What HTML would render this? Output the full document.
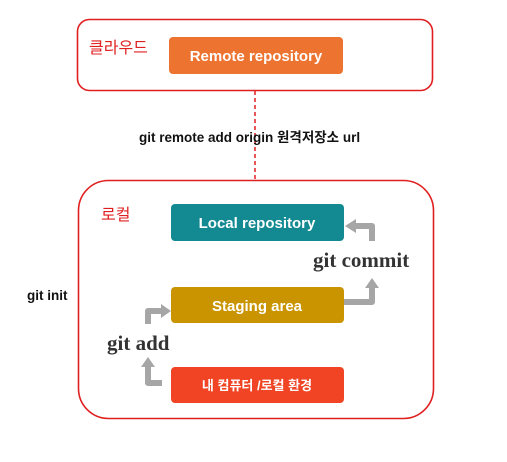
<!DOCTYPE html>
<html><head><meta charset="utf-8"><style>
body{margin:0;width:507px;height:457px;background:#fff;overflow:hidden}
svg text{font-family:"Liberation Sans","Noto Sans CJK KR",sans-serif}
svg text.serif{font-family:"Liberation Serif","DejaVu Serif",serif}
</style></head><body>
<svg width="507" height="457" viewBox="0 0 507 457">
<rect x="77.5" y="19.5" width="355" height="71" rx="12" fill="#fff" stroke="#e02020" stroke-width="1.6"/>
<line x1="255" y1="91" x2="255" y2="180" stroke="#e02020" stroke-width="1.5" stroke-dasharray="4,3"/>
<rect x="78.5" y="180.5" width="355" height="238" rx="30" fill="#fff" stroke="#e02020" stroke-width="1.6"/>
<rect x="169" y="37" width="174" height="37" rx="4" fill="#ec7330"/>
<text x="256" y="61" text-anchor="middle" font-size="15" font-weight="bold" fill="#fff">Remote repository</text>
<text x="89" y="53" font-size="16" fill="#e02020">클라우드</text>
<text x="139" y="142" font-size="13.5" font-weight="bold" fill="#111">git remote add origin 원격저장소 url</text>
<text x="101" y="220" font-size="16" fill="#e02020">로컬</text>
<rect x="171" y="204" width="173" height="37" rx="4" fill="#138a92"/>
<text x="257" y="228" text-anchor="middle" font-size="15" font-weight="bold" fill="#fff">Local repository</text>
<rect x="171" y="287" width="173" height="36" rx="4" fill="#c99400"/>
<text x="257" y="311" text-anchor="middle" font-size="15" font-weight="bold" fill="#fff">Staging area</text>
<rect x="171" y="367" width="173" height="36" rx="4" fill="#f04424"/>
<text x="257" y="390" text-anchor="middle" font-size="13" font-weight="bold" fill="#fff">내 컴퓨터 /로컬 환경</text>
<text class="serif" x="313" y="267" font-size="21" font-weight="bold" fill="#333">git commit</text>
<text class="serif" x="107" y="350" font-size="21" font-weight="bold" fill="#333">git add</text>
<text x="27" y="300" font-size="13.5" font-weight="bold" fill="#111">git init</text>
<g fill="none" stroke="#a6a6a6" stroke-width="6" stroke-linejoin="round">
<path d="M162 383 H148 V366"/>
<path d="M148 324 V311 H162"/>
<path d="M344 302 H372 V287"/>
<path d="M372 241 V226 H355"/>
</g>
<g fill="#a6a6a6">
<polygon points="141,367 155,367 148,357"/>
<polygon points="161,304 161,318 171,311"/>
<polygon points="365,288 379,288 372,278"/>
<polygon points="356,219 356,233 345,226"/>
</g>
</svg>
</body></html>
